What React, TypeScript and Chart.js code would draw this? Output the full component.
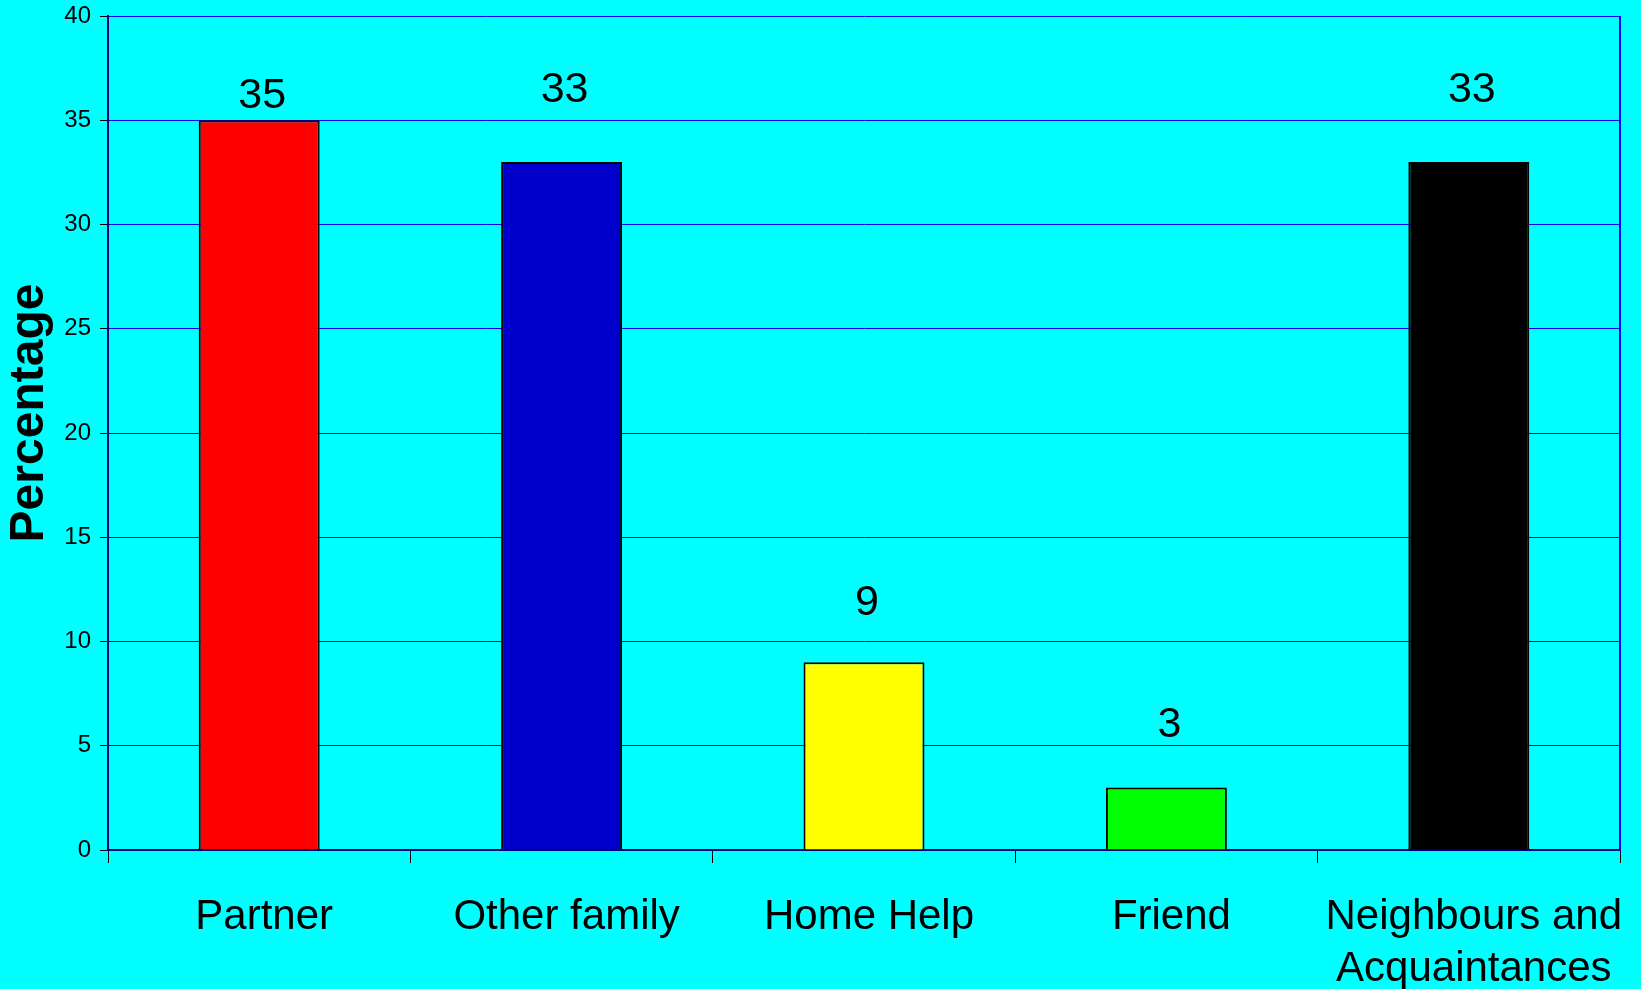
import React, { useEffect, useRef } from "react";
import { Chart, registerables } from "chart.js";

Chart.register(...registerables);

const categories: (string | string[])[] = [
  "Partner",
  "Other family",
  "Home Help",
  "Friend",
  ["Neighbours and", "Acquaintances"],
];
const percentages = [35, 33, 9, 3, 33];
const barColors = ["#FF0000", "#0000CC", "#FFFF00", "#00FF00", "#000000"];
const labelGaps = [25, 73, 60, 63, 73];
const yTickMax = 40;
const yTickStep = 5;
const yTitle = "Percentage";

const FONT = "'Liberation Sans', Arial, sans-serif";

export default function App() {
  const ref = useRef<HTMLCanvasElement | null>(null);

  useEffect(() => {
    if (!ref.current) return;

    const valueLabels = {
      id: "valueLabels",
      afterDatasetsDraw(chart: any) {
        const ctx = chart.ctx;
        const meta = chart.getDatasetMeta(0);
        ctx.save();
        ctx.font = `43px ${FONT}`;
        ctx.fillStyle = "#000000";
        ctx.textAlign = "center";
        ctx.textBaseline = "middle";
        meta.data.forEach((el: any, i: number) => {
          ctx.fillText(String(percentages[i]), el.x + 3, el.y - labelGaps[i] + 1);
        });
        ctx.restore();
      },
    };

    const frame = {
      id: "frame",
      afterDraw(chart: any) {
        const ctx = chart.ctx;
        const a = chart.chartArea;
        ctx.save();
        ctx.strokeStyle = "#0000FF";
        ctx.lineWidth = 2;
        ctx.beginPath();
        ctx.moveTo(a.right, a.top);
        ctx.lineTo(a.right, a.bottom);
        ctx.stroke();
        // y title
        ctx.translate(30, 413);
        ctx.rotate(-Math.PI / 2);
        ctx.font = `bold 48px ${FONT}`;
        ctx.fillStyle = "#000000";
        ctx.textAlign = "center";
        ctx.textBaseline = "middle";
        ctx.fillText(yTitle, 0, 0);
        ctx.restore();
      },
    };

    const chart = new Chart(ref.current, {
      type: "bar",
      data: {
        labels: categories,
        datasets: [
          {
            data: percentages,
            backgroundColor: barColors,
            borderColor: "#000000",
            borderWidth: 2,
            barPercentage: 0.4,
            categoryPercentage: 1,
          },
        ],
      },
      options: {
        animation: false,
        responsive: true,
        maintainAspectRatio: false,
        devicePixelRatio: 1,
        layout: { padding: { top: 16, right: 21, left: 0, bottom: 0 } },
        plugins: {
          legend: { display: false },
          tooltip: { enabled: false },
        },
        scales: {
          x: {
            afterFit(scale: any) {
              scale.height = 139;
              scale.paddingLeft = 0;
              scale.paddingRight = 0;
            },
            grid: {
              display: true,
              drawOnChartArea: false,
              drawTicks: true,
              tickLength: 13,
              offset: true,
              color: "#000000",
              tickColor: "#000000",
            },
            border: { display: true, color: "#000080", width: 2 },
            ticks: {
              color: "#000000",
              font: { family: FONT, size: 42, lineHeight: 1.25 },
              padding: 28,
              labelOffset: 5,
              maxRotation: 0,
              autoSkip: false,
            },
          },
          y: {
            min: 0,
            max: yTickMax,
            afterFit(scale: any) {
              scale.width = 108;
              scale.paddingTop = 0;
              scale.paddingBottom = 0;
            },
            grid: {
              color: "#0000FF",
              lineWidth: 1,
              tickLength: 8,
              tickColor: "#000000",
            },
            border: { display: true, color: "#000080", width: 2 },
            ticks: {
              stepSize: yTickStep,
              color: "#000000",
              font: { family: FONT, size: 24 },
              padding: 9,
            },
          },
        },
      },
      plugins: [valueLabels, frame],
    });

    return () => chart.destroy();
  }, []);

  return (
    <div
      style={{
        position: "fixed",
        left: 0,
        top: 0,
        width: 1641,
        height: 989,
        background: "#00FFFF",
      }}
    >
      <canvas ref={ref} />
    </div>
  );
}
